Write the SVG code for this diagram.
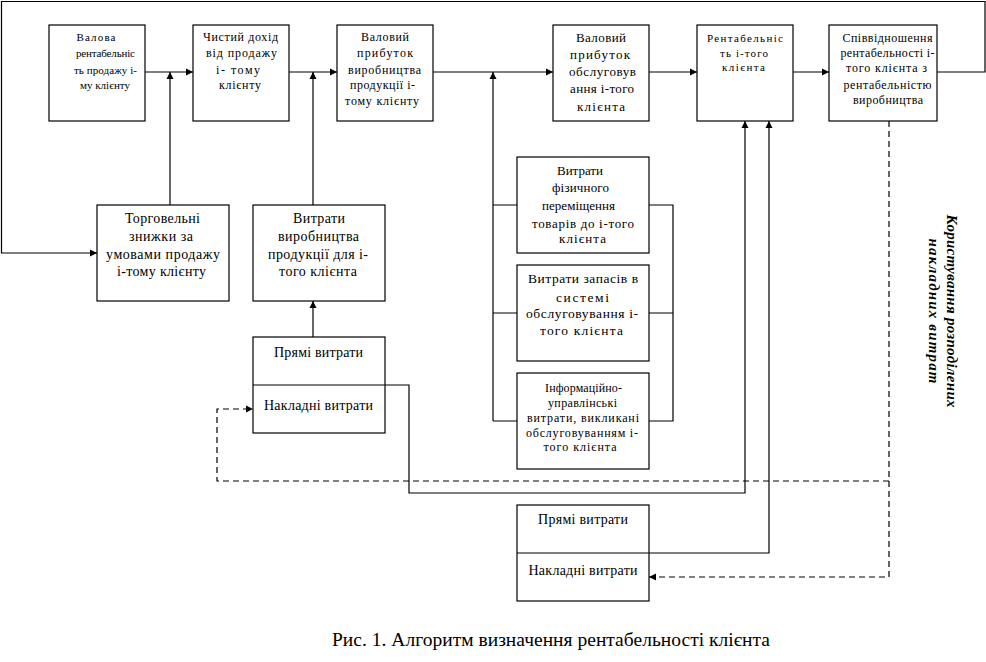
<svg xmlns="http://www.w3.org/2000/svg" width="986" height="662" viewBox="0 0 986 662">
<style>
.box{fill:#fff;stroke:#000;stroke-width:1.2}
.ln{fill:none;stroke:#000;stroke-width:1.2}
.dl{fill:none;stroke:#000;stroke-width:1.2;stroke-dasharray:6,4}
</style>
<defs>
<marker id="ah" markerUnits="userSpaceOnUse" markerWidth="8" markerHeight="8" refX="7" refY="4" orient="auto">
<path d="M0,0.5 L7,4 L0,7.5 z" fill="#000"/>
</marker>
</defs>
<rect width="986" height="662" fill="#fff"/>

<g id="connectors">
<path class="ln" d="M145,72 H193" marker-end="url(#ah)"/>
<path class="ln" d="M170,205 V72" marker-end="url(#ah)"/>
<path class="ln" d="M289,72 H337" marker-end="url(#ah)"/>
<path class="ln" d="M313,205 V72" marker-end="url(#ah)"/>
<path class="ln" d="M433,72 H553" marker-end="url(#ah)"/>
<path class="ln" d="M493,421 V72" marker-end="url(#ah)"/>
<path class="ln" d="M493,205 H517 M493,313 H517 M493,421 H517"/>
<path class="ln" d="M649,205 H673 V421 H649 M649,313 H673"/>
<path class="ln" d="M649,72 H697" marker-end="url(#ah)"/>
<path class="ln" d="M793,72 H829" marker-end="url(#ah)"/>
<path class="ln" d="M937,72 H985 V1.5 H1.5 V253 H97" marker-end="url(#ah)"/>
<path class="ln" d="M313,337 V301" marker-end="url(#ah)"/>
<path class="ln" d="M385,385 H409 V493 H745 V121" marker-end="url(#ah)"/>
<path class="ln" d="M649,553 H769 V121" marker-end="url(#ah)"/>
<path class="dl" d="M889,121 V577 H649" marker-end="url(#ah)"/>
<path class="dl" d="M889,481 H217 V409 H253" marker-end="url(#ah)"/>
</g>

<g font-family="Liberation Serif" text-anchor="middle" fill="#000">
<g id="n1" font-size="11">
<rect class="box" x="49" y="25" width="96" height="96"/>
<text x="96" y="41" textLength="39">Валова</text>
<text x="105.5" y="57" textLength="59">рентабельніс</text>
<text x="105.5" y="74" textLength="63">ть продажу і-</text>
<text x="105" y="89" textLength="50">му клієнту</text>
</g>
<g id="n2" font-size="12">
<rect class="box" x="193" y="25" width="96" height="96"/>
<text x="240.5" y="41" textLength="75">Чистий дохід</text>
<text x="241.5" y="57" textLength="71">від продажу</text>
<text x="238" y="74" textLength="44">і- тому</text>
<text x="240" y="89" textLength="42">клієнту</text>
</g>
<g id="n3" font-size="12">
<rect class="box" x="337" y="25" width="96" height="96"/>
<text x="385" y="41" textLength="48">Валовий</text>
<text x="385" y="57" textLength="56">прибуток</text>
<text x="384.5" y="74" textLength="73">виробництва</text>
<text x="382.5" y="89" textLength="65">продукції і-</text>
<text x="382" y="105" textLength="74">тому клієнту</text>
</g>
<g id="n4" font-size="13">
<rect class="box" x="553" y="25" width="96" height="96"/>
<text x="601" y="42" textLength="50">Валовий</text>
<text x="600" y="59" textLength="60">прибуток</text>
<text x="602.5" y="76" textLength="67">обслуговув</text>
<text x="602" y="93" textLength="64">ання і-того</text>
<text x="601" y="111" textLength="48">клієнта</text>
</g>
<g id="n5" font-size="11">
<rect class="box" x="697" y="25" width="96" height="96"/>
<text x="745" y="42" textLength="76">Рентабельніс</text>
<text x="744" y="57" textLength="48">ть і-того</text>
<text x="743.5" y="71" textLength="43">клієнта</text>
</g>
<g id="n6" font-size="12">
<rect class="box" x="829" y="25" width="108" height="96"/>
<text x="887.5" y="42" textLength="90">Співвідношення</text>
<text x="887.5" y="57" textLength="94">рентабельності і-</text>
<text x="886.5" y="72" textLength="81">того клієнта з</text>
<text x="887.5" y="89" textLength="88">рентабельністю</text>
<text x="888" y="104" textLength="70">виробництва</text>
</g>
<g id="n7" font-size="14">
<rect class="box" x="97" y="205" width="132" height="96"/>
<text x="162.5" y="223" textLength="75">Торговельні</text>
<text x="161" y="241" textLength="64">знижки за</text>
<text x="163" y="259" textLength="114">умовами продажу</text>
<text x="161.5" y="276" textLength="89">і-тому клієнту</text>
</g>
<g id="n8" font-size="14">
<rect class="box" x="253" y="205" width="132" height="96"/>
<text x="319" y="223" textLength="52">Витрати</text>
<text x="318.5" y="241" textLength="81">виробництва</text>
<text x="318" y="259" textLength="100">продукції для і-</text>
<text x="318" y="276" textLength="78">того клієнта</text>
</g>
<g id="n9" font-size="14">
<rect class="box" x="253" y="337" width="132" height="96"/>
<path class="ln" d="M253,385 H385"/>
<text x="318.5" y="357" textLength="89">Прямі витрати</text>
<text x="318.5" y="410" textLength="109">Накладні витрати</text>
</g>
<g id="n10" font-size="13">
<rect class="box" x="517" y="157" width="132" height="96"/>
<text x="580" y="175" textLength="46">Витрати</text>
<text x="580.5" y="192" textLength="57">фізичного</text>
<text x="578.5" y="210" textLength="73">переміщення</text>
<text x="583" y="228" textLength="102">товарів до і-того</text>
<text x="582.5" y="243" textLength="47">клієнта</text>
</g>
<g id="n11" font-size="13.5">
<rect class="box" x="517" y="265" width="132" height="96"/>
<text x="583" y="283" textLength="110">Витрати запасів в</text>
<text x="582.5" y="302" textLength="53">системі</text>
<text x="582" y="318" textLength="112">обслуговування і-</text>
<text x="581.5" y="335" textLength="83">того клієнта</text>
</g>
<g id="n12" font-size="12">
<rect class="box" x="517" y="373" width="132" height="96"/>
<text x="583.5" y="392" textLength="77">Інформаційно-</text>
<text x="582.5" y="407" textLength="69">управлінські</text>
<text x="583" y="422" textLength="112">витрати, викликані</text>
<text x="582" y="437" textLength="112">обслуговуванням і-</text>
<text x="580" y="451" textLength="73">того клієнта</text>
</g>
<g id="n13" font-size="14">
<rect class="box" x="517" y="505" width="132" height="96"/>
<path class="ln" d="M517,553 H649"/>
<text x="583" y="524" textLength="90">Прямі витрати</text>
<text x="583" y="575" textLength="109">Накладні витрати</text>
</g>
<g id="label" font-size="15" font-weight="bold" font-style="italic">
<text transform="translate(947,311) rotate(90)" textLength="193">Користування розподілених</text>
<text transform="translate(929,311) rotate(90)" textLength="145">накладних витрат</text>
</g>
<text x="551" y="646" font-size="19.5" textLength="438">Рис. 1. Алгоритм визначення рентабельності клієнта</text>
</g>
</svg>
